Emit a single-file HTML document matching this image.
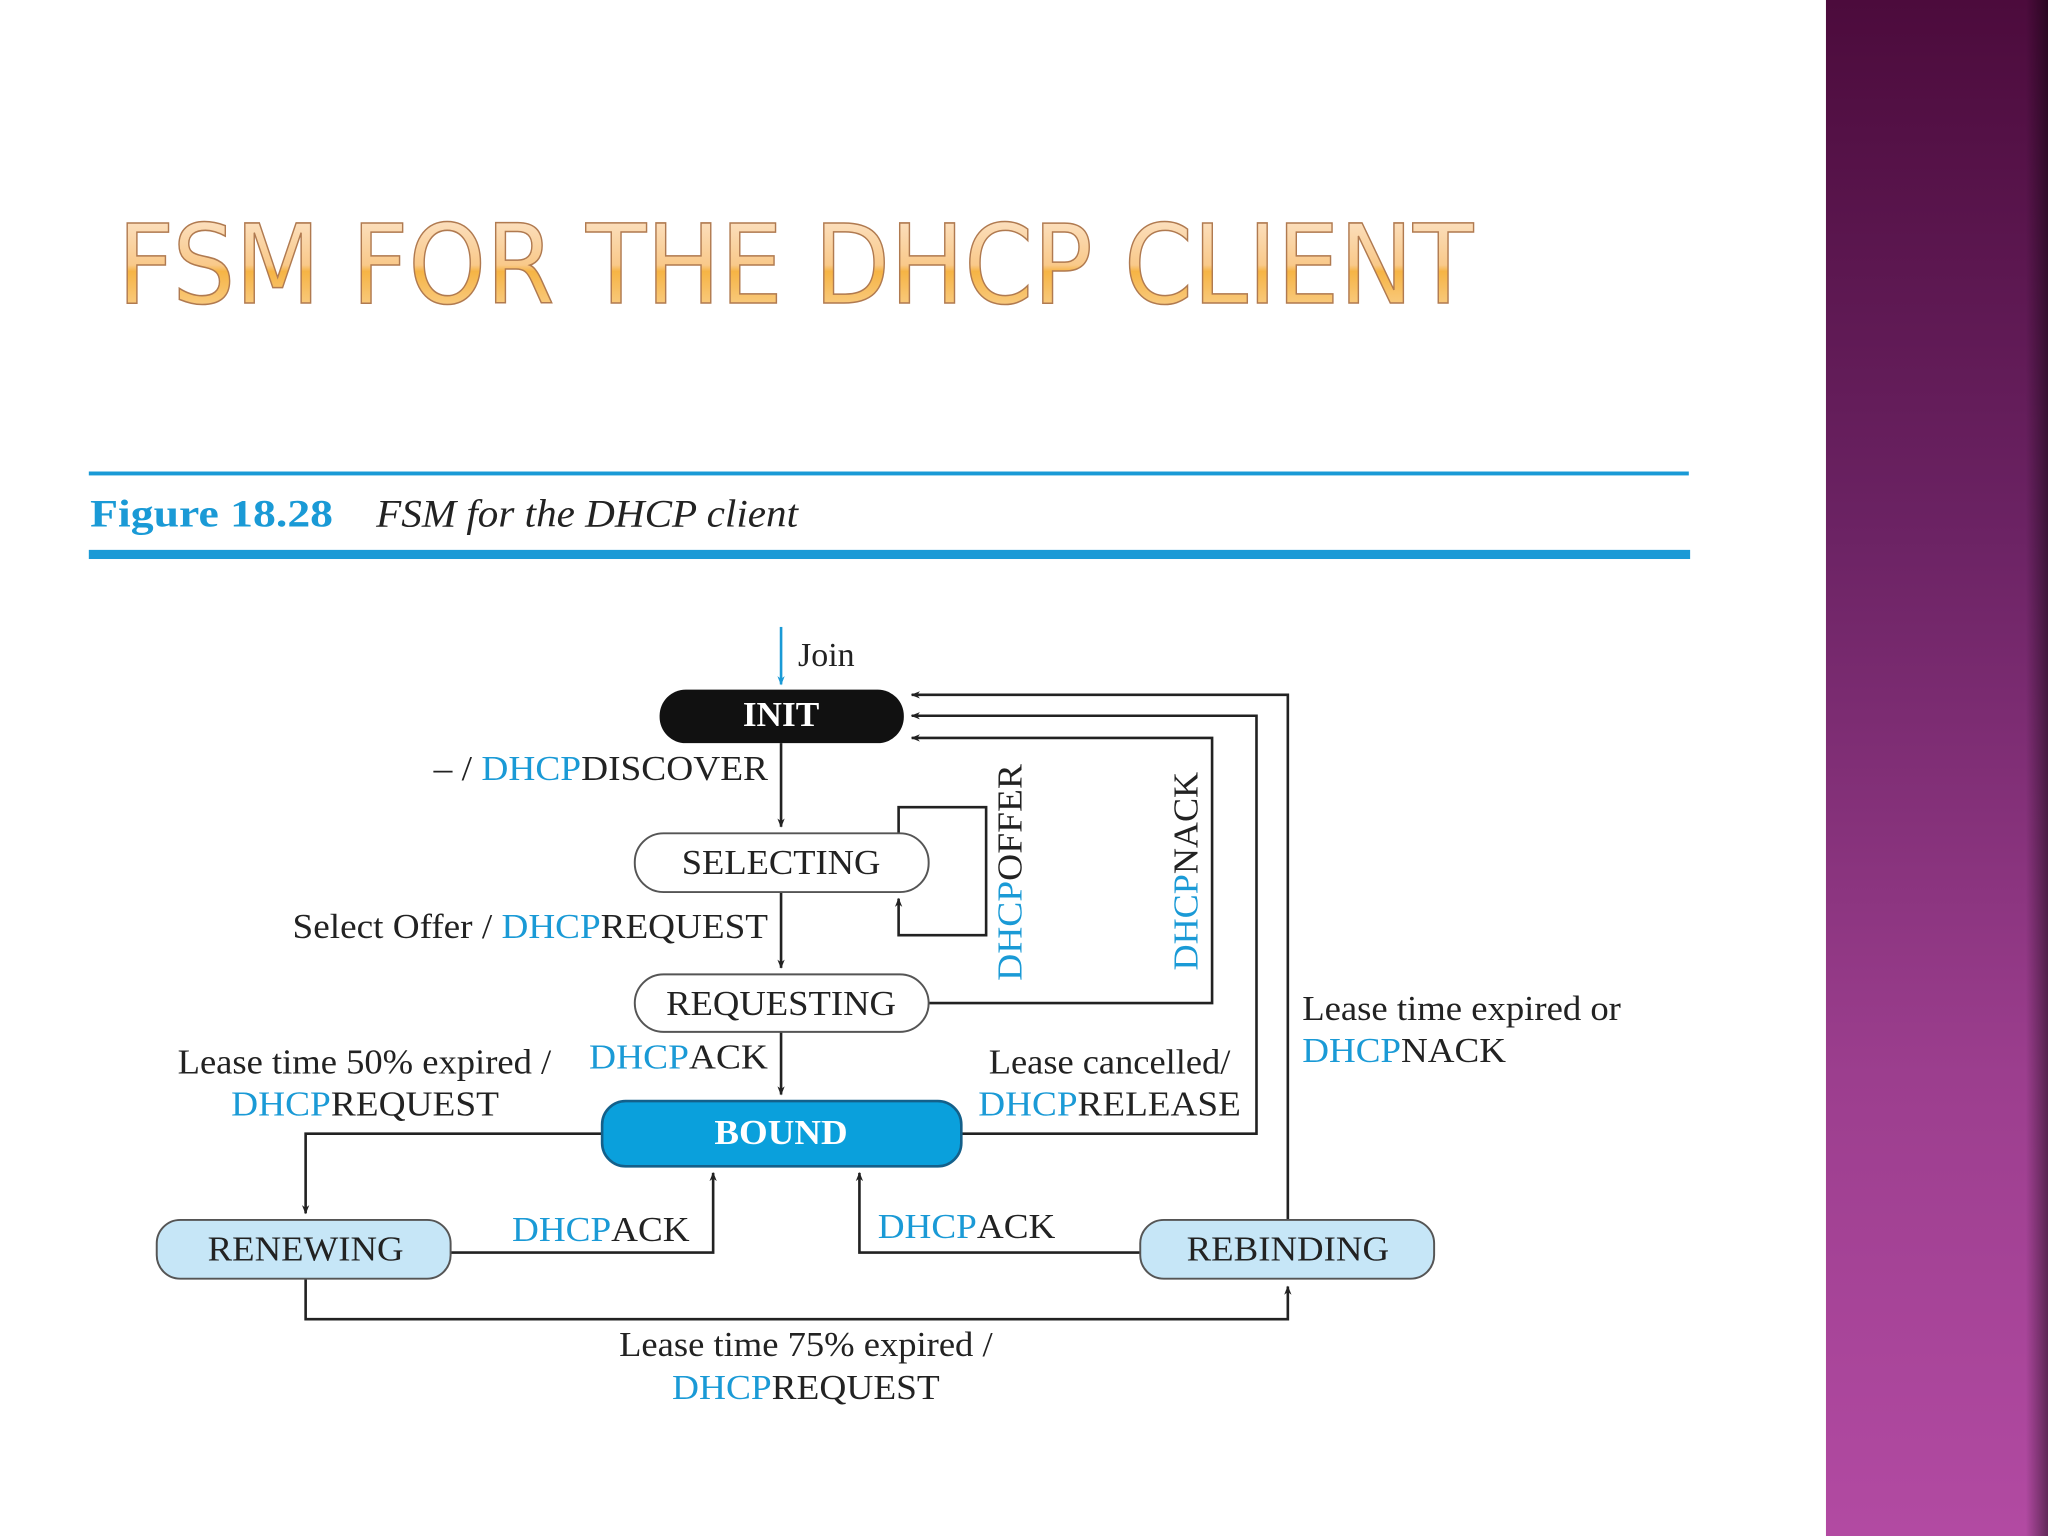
<!DOCTYPE html>
<html><head><meta charset="utf-8"><style>
html,body{margin:0;padding:0;background:#fff;}
svg{display:block;}
</style></head><body>
<svg width="2048" height="1536" viewBox="0 0 1568 1176" xmlns="http://www.w3.org/2000/svg">
<defs>
<linearGradient id="pv" x1="0" y1="0" x2="0" y2="1">
<stop offset="0" stop-color="#4c0b3c"/><stop offset="0.35" stop-color="#6c2364"/><stop offset="0.7" stop-color="#9c3e8e"/><stop offset="1" stop-color="#b24aa2"/>
</linearGradient>
<linearGradient id="ph" x1="0" y1="0" x2="1" y2="0">
<stop offset="0" stop-color="#000" stop-opacity="0"/><stop offset="0.9" stop-color="#000" stop-opacity="0"/><stop offset="1" stop-color="#000" stop-opacity="0.45"/>
</linearGradient>
<linearGradient id="og" x1="0" y1="0" x2="0" y2="1">
<stop offset="0" stop-color="#fde9d4"/><stop offset="0.5" stop-color="#f9c98a"/><stop offset="0.55" stop-color="#f6b445"/><stop offset="1" stop-color="#fad9a6"/>
</linearGradient>
<marker id="a" viewBox="0 0 10 10" refX="9" refY="5" markerWidth="7" markerHeight="7" orient="auto" markerUnits="userSpaceOnUse"><path d="M0,1 L10,5 L0,9 L3,5 Z" fill="#222"/></marker>
<marker id="ab" viewBox="0 0 10 10" refX="9" refY="5" markerWidth="7" markerHeight="7" orient="auto" markerUnits="userSpaceOnUse"><path d="M0,1 L10,5 L0,9 L3,5 Z" fill="#1a9ad6"/></marker>
</defs>
<rect x="1398" y="0" width="170" height="1176" fill="url(#pv)"/>
<rect x="1398" y="0" width="170" height="1176" fill="url(#ph)"/>

<text x="90" y="232" font-family="DejaVu Sans, Liberation Sans, sans-serif" font-size="84" fill="url(#og)" stroke="#b07a50" stroke-width="1.2" textLength="1038" lengthAdjust="spacingAndGlyphs">FSM FOR THE DHCP CLIENT</text>

<rect x="68" y="361" width="1225" height="3" fill="#1a9ad6"/>
<text x="69" y="403" font-family="Liberation Serif, serif" font-weight="bold" font-size="30" fill="#1a9ad6" textLength="186" lengthAdjust="spacingAndGlyphs">Figure 18.28</text>
<text x="288" y="403" font-family="Liberation Serif, serif" font-style="italic" font-size="30" fill="#222" textLength="323" lengthAdjust="spacingAndGlyphs">FSM for the DHCP client</text>
<rect x="68" y="421" width="1226" height="7" fill="#1a9ad6"/>

<g stroke="#222" stroke-width="2" fill="none">
<line x1="598" y1="480" x2="598" y2="524" stroke="#1a9ad6" marker-end="url(#ab)"/>
<polyline points="986,934 986,532 698,532" marker-end="url(#a)"/>
<polyline points="736,868 962,868 962,548 698,548" marker-end="url(#a)"/>
<polyline points="711,768 928,768 928,565 698,565" marker-end="url(#a)"/>
<line x1="598" y1="569" x2="598" y2="633" marker-end="url(#a)"/>
<polyline points="688,638 688,618 755,618 755,716 688,716 688,688" marker-end="url(#a)"/>
<line x1="598" y1="683" x2="598" y2="741" marker-end="url(#a)"/>
<line x1="598" y1="790" x2="598" y2="838" marker-end="url(#a)"/>
<polyline points="461,868 234,868 234,929" marker-end="url(#a)"/>
<polyline points="345,959 546,959 546,898" marker-end="url(#a)"/>
<polyline points="873,959 658,959 658,898" marker-end="url(#a)"/>
<polyline points="234,979 234,1010 986,1010 986,985" marker-end="url(#a)"/>
</g>

<rect x="505" y="528" width="187" height="41" rx="20" fill="#111"/>
<rect x="486" y="638" width="225" height="45" rx="22" fill="#fff" stroke="#555" stroke-width="1.5"/>
<rect x="486" y="746" width="225" height="44" rx="22" fill="#fff" stroke="#555" stroke-width="1.5"/>
<rect x="461" y="843" width="275" height="50" rx="18" fill="#0aa0dc" stroke="#14608a" stroke-width="2"/>
<rect x="120" y="934" width="225" height="45" rx="18" fill="#c6e6f7" stroke="#555" stroke-width="1.5"/>
<rect x="873" y="934" width="225" height="45" rx="18" fill="#c6e6f7" stroke="#555" stroke-width="1.5"/>

<g font-family="Liberation Serif, serif" font-size="27" fill="#222">
<text x="598" y="556" text-anchor="middle" fill="#fff" font-weight="bold">INIT</text>
<text x="598" y="669" text-anchor="middle" textLength="152" lengthAdjust="spacingAndGlyphs">SELECTING</text>
<text x="598" y="777" text-anchor="middle" textLength="176" lengthAdjust="spacingAndGlyphs">REQUESTING</text>
<text x="598" y="876" text-anchor="middle" fill="#fff" font-weight="bold" textLength="102" lengthAdjust="spacingAndGlyphs">BOUND</text>
<text x="234" y="965" text-anchor="middle" textLength="150" lengthAdjust="spacingAndGlyphs">RENEWING</text>
<text x="986" y="965" text-anchor="middle" textLength="155" lengthAdjust="spacingAndGlyphs">REBINDING</text>

<text x="611" y="510" font-size="26">Join</text>
<text x="588" y="597" text-anchor="end" textLength="256" lengthAdjust="spacingAndGlyphs">– / <tspan fill="#1a9ad6">DHCP</tspan>DISCOVER</text>
<text x="588" y="718" text-anchor="end" textLength="364" lengthAdjust="spacingAndGlyphs">Select Offer / <tspan fill="#1a9ad6">DHCP</tspan>REQUEST</text>
<text x="588" y="818" text-anchor="end" textLength="137" lengthAdjust="spacingAndGlyphs"><tspan fill="#1a9ad6">DHCP</tspan>ACK</text>
<text x="136" y="822" textLength="286" lengthAdjust="spacingAndGlyphs">Lease time 50% expired /</text>
<text x="177" y="854" textLength="205" lengthAdjust="spacingAndGlyphs"><tspan fill="#1a9ad6">DHCP</tspan>REQUEST</text>
<text x="757" y="822" textLength="185" lengthAdjust="spacingAndGlyphs">Lease cancelled/</text>
<text x="749" y="854" textLength="201" lengthAdjust="spacingAndGlyphs"><tspan fill="#1a9ad6">DHCP</tspan>RELEASE</text>
<text x="997" y="781" textLength="244" lengthAdjust="spacingAndGlyphs">Lease time expired or</text>
<text x="997" y="813" textLength="156" lengthAdjust="spacingAndGlyphs"><tspan fill="#1a9ad6">DHCP</tspan>NACK</text>
<text x="392" y="950" textLength="136" lengthAdjust="spacingAndGlyphs"><tspan fill="#1a9ad6">DHCP</tspan>ACK</text>
<text x="672" y="948" textLength="136" lengthAdjust="spacingAndGlyphs"><tspan fill="#1a9ad6">DHCP</tspan>ACK</text>
<text x="617" y="1038" text-anchor="middle" textLength="286" lengthAdjust="spacingAndGlyphs">Lease time 75% expired /</text>
<text x="617" y="1071" text-anchor="middle" textLength="205" lengthAdjust="spacingAndGlyphs"><tspan fill="#1a9ad6">DHCP</tspan>REQUEST</text>
<text transform="translate(782,751) rotate(-90)" textLength="166" lengthAdjust="spacingAndGlyphs"><tspan fill="#1a9ad6">DHCP</tspan>OFFER</text>
<text transform="translate(917,743) rotate(-90)" textLength="152" lengthAdjust="spacingAndGlyphs"><tspan fill="#1a9ad6">DHCP</tspan>NACK</text>
</g>
</svg>
</body></html>
